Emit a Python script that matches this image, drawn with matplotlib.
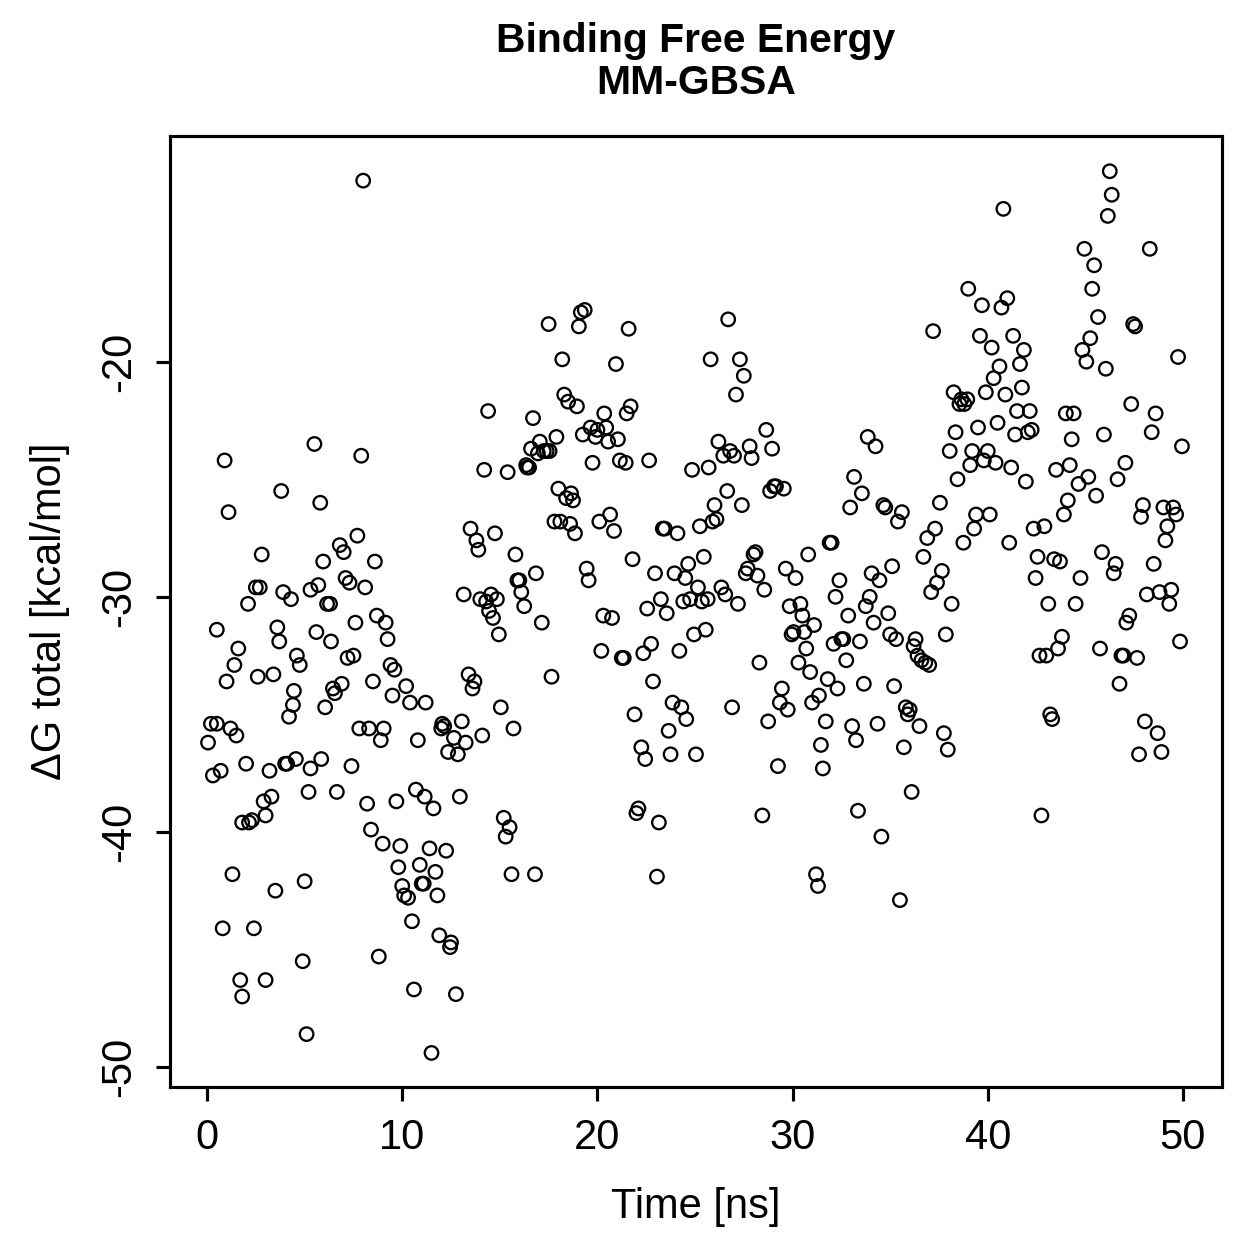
import numpy as np
import matplotlib
matplotlib.use("Agg")
import matplotlib.pyplot as plt

plt.rcParams['font.family'] = ['Liberation Sans', 'DejaVu Sans']

# time [ns]
time = [0.05, 0.2, 0.3, 0.5, 0.5, 0.7, 0.8, 0.9, 1.0, 1.1, 1.2, 1.3, 1.4, 1.5, 1.6, 1.7, 1.8, 1.8,
        2.0, 2.1, 2.15, 2.3, 2.4, 2.5, 2.6, 2.7, 2.8, 2.9, 3.0, 3.0, 3.2, 3.3, 3.4, 3.5, 3.6, 3.7,
        3.8, 3.9, 4.0, 4.1, 4.2, 4.3, 4.4, 4.45, 4.55, 4.6, 4.75, 4.9, 5.0, 5.1, 5.2, 5.3, 5.3, 5.5,
        5.6, 5.7, 5.8, 5.85, 5.95, 6.05, 6.15, 6.3, 6.35, 6.45, 6.55, 6.65, 6.8, 6.9, 7.0, 7.1, 7.2,
        7.3, 7.4, 7.5, 7.6, 7.7, 7.8, 7.9, 8.0, 8.1, 8.2, 8.3, 8.4, 8.5, 8.6, 8.7, 8.8, 8.9, 9.0,
        9.05, 9.15, 9.25, 9.4, 9.5, 9.6, 9.7, 9.8, 9.9, 10.0, 10.1, 10.2, 10.3, 10.4, 10.5, 10.6,
        10.7, 10.8, 10.9, 11.0, 11.1, 11.15, 11.2, 11.4, 11.5, 11.6, 11.7, 11.8, 11.9, 12.0, 12.05,
        12.15, 12.25, 12.35, 12.45, 12.5, 12.65, 12.75, 12.85, 12.95, 13.05, 13.15, 13.25, 13.4,
        13.5, 13.6, 13.7, 13.8, 13.9, 14.0, 14.1, 14.2, 14.3, 14.4, 14.45, 14.55, 14.65, 14.75,
        14.85, 14.95, 15.05, 15.2, 15.3, 15.4, 15.5, 15.6, 15.7, 15.8, 15.9, 16.0, 16.1, 16.25,
        16.35, 16.4, 16.5, 16.6, 16.7, 16.8, 16.85, 16.95, 17.05, 17.15, 17.25, 17.4, 17.5, 17.55,
        17.65, 17.8, 17.9, 18.0, 18.1, 18.2, 18.3, 18.4, 18.5, 18.6, 18.65, 18.75, 18.85, 18.95,
        19.05, 19.15, 19.25, 19.35, 19.45, 19.55, 19.65, 19.75, 19.9, 20.0, 20.1, 20.2, 20.3,
        20.35, 20.45, 20.55, 20.65, 20.75, 20.85, 20.95, 21.05, 21.15, 21.25, 21.35, 21.45, 21.5,
        21.6, 21.7, 21.8, 21.9, 22.0, 22.1, 22.25, 22.35, 22.45, 22.55, 22.65, 22.75, 22.85, 22.95,
        23.05, 23.15, 23.25, 23.35, 23.45, 23.55, 23.65, 23.75, 23.85, 23.95, 24.1, 24.2, 24.3,
        24.4, 24.5, 24.55, 24.65, 24.75, 24.85, 24.95, 25.05, 25.15, 25.25, 25.35, 25.45, 25.55,
        25.65, 25.7, 25.8, 25.9, 26.0, 26.1, 26.2, 26.35, 26.45, 26.55, 26.65, 26.7, 26.8, 26.9,
        27.0, 27.1, 27.2, 27.3, 27.4, 27.5, 27.6, 27.7, 27.8, 27.9, 28.0, 28.1, 28.2, 28.3, 28.45,
        28.55, 28.65, 28.75, 28.85, 28.95, 29.05, 29.15, 29.25, 29.35, 29.45, 29.55, 29.65, 29.75,
        29.85, 29.95, 30.05, 30.15, 30.3, 30.4, 30.5, 30.6, 30.7, 30.8, 30.9, 31.0, 31.1, 31.2,
        31.3, 31.35, 31.45, 31.55, 31.7, 31.8, 31.9, 32.0, 32.1, 32.2, 32.3, 32.4, 32.5, 32.6,
        32.75, 32.85, 32.95, 33.05, 33.15, 33.25, 33.35, 33.45, 33.55, 33.65, 33.75, 33.85, 33.95,
        34.05, 34.15, 34.25, 34.35, 34.45, 34.55, 34.65, 34.75, 34.9, 35.0, 35.1, 35.2, 35.3, 35.4,
        35.5, 35.6, 35.7, 35.8, 35.9, 36.0, 36.1, 36.2, 36.3, 36.4, 36.5, 36.6, 36.7, 36.8, 36.9,
        37.0, 37.1, 37.2, 37.3, 37.4, 37.55, 37.65, 37.75, 37.85, 37.95, 38.05, 38.15, 38.25,
        38.35, 38.45, 38.55, 38.65, 38.75, 38.8, 38.95, 39.0, 39.1, 39.2, 39.3, 39.4, 39.5, 39.6,
        39.7, 39.8, 39.9, 40.0, 40.1, 40.2, 40.3, 40.4, 40.5, 40.6, 40.7, 40.8, 40.9, 41.0, 41.1,
        41.2, 41.3, 41.4, 41.5, 41.65, 41.75, 41.85, 41.95, 42.05, 42.15, 42.25, 42.35, 42.45,
        42.55, 42.65, 42.75, 42.9, 43.0, 43.1, 43.2, 43.3, 43.4, 43.5, 43.6, 43.7, 43.8, 43.9,
        44.0, 44.1, 44.2, 44.3, 44.4, 44.5, 44.65, 44.75, 44.85, 44.95, 45.05, 45.15, 45.25,
        45.35, 45.45, 45.55, 45.65, 45.75, 45.85, 45.95, 46.05, 46.15, 46.25, 46.35, 46.45, 46.55,
        46.65, 46.75, 46.85, 46.95, 47.05, 47.1, 47.25, 47.35, 47.45, 47.55, 47.65, 47.75, 47.85,
        47.95, 48.05, 48.15, 48.3, 48.4, 48.5, 48.6, 48.7, 48.8, 48.9, 49.0, 49.1, 49.2, 49.3,
        49.4, 49.5, 49.65, 49.75, 49.85, 49.95]

# delta G total [kcal/mol]
dg = [-36.2, -35.4, -37.6, -35.4, -31.4, -37.4, -44.1, -24.2, -33.6, -26.4, -35.6, -41.8, -32.9,
      -35.9, -32.2, -46.3, -47.0, -39.6, -37.1, -30.3, -39.6, -39.5, -44.1, -29.6, -33.4, -29.6,
      -28.2, -38.7, -39.3, -46.3, -37.4, -38.5, -33.3, -42.5, -31.3, -31.9, -25.5, -29.8, -37.1,
      -37.1, -35.1, -30.1, -34.6, -34.0, -36.9, -32.5, -32.9, -45.5, -42.1, -48.6, -38.3, -37.3,
      -29.7, -23.5, -31.5, -29.5, -26.0, -36.9, -28.5, -34.7, -30.3, -30.3, -31.9, -33.9, -34.1,
      -38.3, -27.8, -33.7, -28.1, -29.2, -32.6, -29.4, -37.2, -32.5, -31.1, -27.4, -35.6, -24.0,
      -12.3, -29.6, -38.8, -35.6, -39.9, -33.6, -28.5, -30.8, -45.3, -36.1, -40.5, -35.6, -31.1,
      -31.8, -32.9, -34.2, -33.1, -38.7, -41.5, -40.6, -42.3, -42.7, -33.8, -42.8, -34.5, -43.8,
      -46.7, -38.2, -36.1, -41.4, -42.2, -42.2, -38.5, -34.5, -40.7, -49.4, -39.0, -41.7, -42.7,
      -44.4, -35.6, -35.4, -35.5, -40.8, -36.6, -44.9, -44.7, -36.0, -46.9, -36.7, -38.5, -35.3,
      -29.9, -36.2, -33.3, -27.1, -33.9, -33.6, -27.6, -28.0, -30.1, -35.9, -24.6, -30.2, -22.1,
      -30.6, -29.9, -30.9, -27.3, -30.1, -31.6, -34.7, -39.4, -40.2, -24.7, -39.8, -41.8, -35.6,
      -28.2, -29.3, -29.3, -29.8, -30.4, -24.4, -24.5, -24.5, -23.7, -22.4, -41.8, -29.0, -23.9,
      -23.4, -31.1, -23.8, -23.8, -18.4, -23.8, -33.4, -26.8, -23.2, -25.4, -26.8, -19.9, -21.4,
      -25.8, -21.7, -26.9, -25.6, -25.9, -27.3, -21.9, -18.5, -17.9, -23.1, -17.8, -28.8, -29.3,
      -22.8, -24.3, -23.2, -22.9, -26.8, -32.3, -30.8, -22.2, -22.8, -23.4, -26.5, -30.9, -27.2,
      -20.1, -23.3, -24.2, -32.6, -32.6, -24.3, -22.2, -18.6, -21.9, -28.4, -35.0, -39.2, -39.0,
      -36.4, -32.4, -36.9, -30.5, -24.2, -32.0, -33.6, -29.0, -41.9, -39.6, -30.1, -27.1, -27.1,
      -30.7, -35.7, -36.7, -34.5, -29.0, -27.3, -32.3, -34.7, -30.2, -29.2, -35.2, -28.6, -30.1,
      -24.6, -31.6, -36.7, -29.6, -27.0, -30.2, -28.3, -31.4, -30.1, -24.5, -19.9, -26.8, -26.1,
      -26.7, -23.4, -29.6, -24.0, -29.9, -25.5, -18.2, -23.8, -34.7, -24.0, -21.4, -30.3, -19.9,
      -26.1, -20.6, -29.0, -28.8, -23.6, -24.1, -28.2, -28.1, -29.1, -32.8, -39.3, -29.7, -22.9,
      -35.3, -25.5, -23.7, -25.3, -25.3, -37.2, -34.5, -33.9, -25.4, -28.8, -34.8, -30.4, -31.6,
      -31.5, -29.2, -32.8, -30.3, -30.8, -31.5, -32.2, -28.2, -33.2, -34.5, -31.2, -41.8, -42.3,
      -34.2, -36.3, -37.3, -35.3, -33.5, -27.7, -27.7, -32.0, -30.0, -33.9, -29.3, -31.8, -31.8,
      -32.7, -30.8, -26.2, -35.5, -24.9, -36.1, -39.1, -31.9, -25.6, -33.7, -30.4, -23.2, -30.0,
      -29.0, -31.1, -23.6, -35.4, -29.3, -40.2, -26.1, -26.2, -30.7, -31.6, -28.7, -33.8, -31.8,
      -26.8, -42.9, -26.4, -36.4, -34.7, -35.0, -34.8, -38.3, -32.1, -31.8, -32.5, -35.5, -32.7,
      -28.3, -32.8, -27.5, -32.9, -29.8, -18.7, -27.1, -29.4, -26.0, -28.9, -35.8, -31.6, -36.5,
      -23.8, -30.3, -21.3, -23.0, -25.0, -21.8, -21.6, -27.7, -21.8, -21.6, -16.9, -24.4, -23.8,
      -27.1, -26.5, -22.8, -18.9, -17.6, -24.2, -21.3, -23.8, -26.5, -19.4, -20.7, -24.3, -22.6,
      -20.2, -17.7, -13.5, -21.4, -17.3, -27.7, -24.5, -18.9, -23.1, -22.1, -20.1, -21.1, -19.5,
      -25.1, -23.0, -22.1, -22.9, -27.1, -29.2, -28.3, -32.5, -39.3, -27.0, -32.5, -30.3, -35.0,
      -35.2, -28.4, -24.6, -32.2, -28.5, -31.7, -26.5, -22.2, -25.9, -24.4, -23.3, -22.2, -30.3,
      -25.2, -29.2, -19.5, -15.2, -20.0, -24.9, -19.0, -16.9, -15.9, -25.7, -18.1, -32.2, -28.1,
      -23.1, -20.3, -13.8, -11.9, -12.9, -29.0, -28.6, -25.0, -33.7, -32.5, -32.5, -24.3, -31.1,
      -30.8, -21.8, -18.4, -18.5, -32.6, -36.7, -26.6, -26.1, -35.3, -29.9, -15.2, -23.0, -28.6,
      -22.2, -35.8, -29.8, -36.6, -26.2, -27.6, -27.0, -30.3, -29.7, -26.2, -26.5, -19.8, -31.9,
      -23.6]

xticks = [0, 10, 20, 30, 40, 50]
yticks = [-50, -40, -30, -20]

fig = plt.figure(figsize=(1259 / 300, 1259 / 300), dpi=300)
ax = fig.add_axes([0.135, 0.1366, 0.8356, 0.7554])

ax.scatter(time, dg, s=10.5, facecolors='none', edgecolors='black', linewidths=0.55)

ax.set_xlim(-1.9, 52)
ax.set_ylim(-50.85, -10.4)
ax.set_xticks(xticks)
ax.set_yticks(yticks)
ax.set_yticklabels([str(v) for v in yticks], rotation=90, va='center')
ax.tick_params(axis='both', direction='out', length=3.4, width=0.75, labelsize=10, pad=4)
for sp in ax.spines.values():
    sp.set_linewidth(0.75)

ax.set_xlabel('Time [ns]', fontsize=10, labelpad=7)
ax.set_ylabel('ΔG total [kcal/mol]', fontsize=10, labelpad=7)
ax.set_title('Binding Free Energy\nMM-GBSA', fontsize=9.8, fontweight='bold', pad=10, linespacing=1.15)

fig.savefig('out.png', dpi=300)
